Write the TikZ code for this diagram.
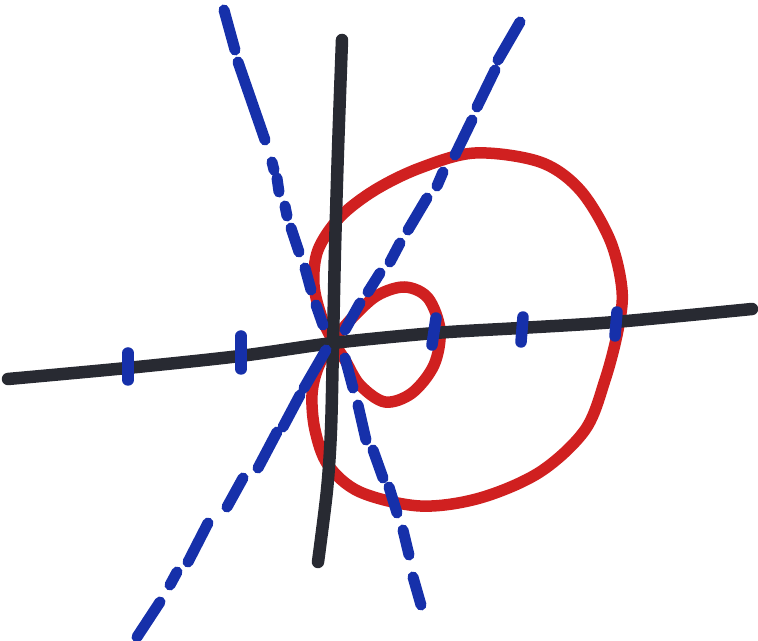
\documentclass[tikz,border=0pt]{standalone}
\definecolor{axisblack}{RGB}{40,42,50}
\definecolor{penred}{RGB}{208,32,32}
\definecolor{penblue}{RGB}{22,48,170}
\tikzset{
  axisline/.style={draw=axisblack, line width=0.25cm, line cap=round, line join=round},
  curveline/.style={draw=penred, line width=0.23cm, line cap=round, line join=round},
  dashline/.style={draw=penblue, line width=0.22cm, line cap=round},
  tickmark/.style={draw=penblue, line width=0.23cm, line cap=round},
}
\begin{document}
\begin{tikzpicture}[x=0.02cm, y=-0.02cm]
\useasboundingbox (0,0) rectangle (758,641);
% limacon
\draw[curveline] plot[smooth cycle, tension=0.55] coordinates {
 (333,341) (345,360) (360,385) (385,402) (412,393) (434,365) (440,330) (428,298)
 (405,287) (378,295) (355,315) (333,341) (318,368) (312,395) (315,430) (328,465)
 (360,492) (420,506) (480,498) (540,472) (585,430) (605,380) (618,330) (622,290)
 (610,240) (580,190) (540,162) (475,153) (420,168) (375,190) (340,217) (318,250)
 (314,285) (322,318)};
% axes
\draw[axisline] plot[smooth, tension=0.5] coordinates {(8,379) (127,368) (240,356) (333,343) (435,333) (520,328) (615,322) (752,309)};
\draw[axisline] plot[smooth, tension=0.5] coordinates {(342,40) (338,150) (335,250) (333,343) (331,430) (327,490) (318,562)};
% ticks
\foreach \a/\b in {{(128,353)}/{(128,380)}, {(241,336)}/{(241,369)}, {(436,318)}/{(432,345)}, {(523,317)}/{(521,342)}, {(617,312)}/{(615,336)}}
  \draw[tickmark] \a -- \b;
% dashed line A
\foreach \a/\b in {{(224,10)}/{(235,50)}, {(238,62)}/{(265,140)}, {(272,162)}/{(274,170)}, {(277,178)}/{(279,192)}, {(285,206)}/{(287,216)}, {(291,228)}/{(299,252)}, {(305,268)}/{(311,290)}, {(316,305)}/{(323,325)}, {(345,358)}/{(353,388)}, {(358,405)}/{(366,440)}, {(373,450)}/{(383,478)}, {(389,487)}/{(397,513)}, {(403,530)}/{(409,555)}, {(413,577)}/{(421,605)}}
  \draw[dashline] \a -- \b;
% dashed line B
\foreach \a/\b in {{(520,22)}/{(498,60)}, {(495,70)}/{(477,107)}, {(472,120)}/{(455,155)}, {(443,172)}/{(437,186)}, {(427,198)}/{(408,230)}, {(400,243)}/{(390,262)}, {(380,273)}/{(368,292)}, {(360,303)}/{(345,330)}, {(326,350)}/{(304,388)}, {(300,395)}/{(283,427)}, {(277,432)}/{(258,468)}, {(243,478)}/{(227,507)}, {(208,523)}/{(188,562)}, {(177,572)}/{(170,585)}, {(160,602)}/{(137,637)}}
  \draw[dashline] \a -- \b;
\end{tikzpicture}
\end{document}
